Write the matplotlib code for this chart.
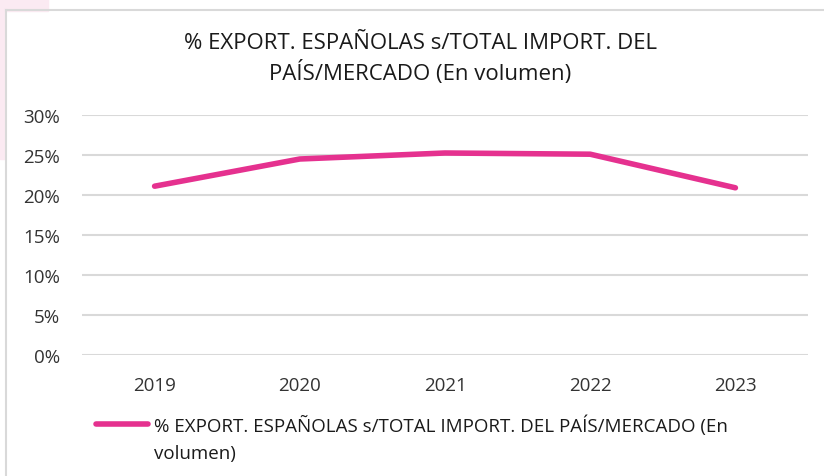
import matplotlib.pyplot as plt
from matplotlib.patches import Rectangle
from matplotlib.lines import Line2D

years = ["2019", "2020", "2021", "2022", "2023"]
share = [21.1, 24.5, 25.25, 25.1, 20.9]
y_ticks = [0, 5, 10, 15, 20, 25, 30]
label_lines = ["% EXPORT. ESPAÑOLAS s/TOTAL IMPORT. DEL PAÍS/MERCADO (En", "volumen)"]
title = "% EXPORT. ESPAÑOLAS s/TOTAL IMPORT. DEL\nPAÍS/MERCADO (En volumen)"

pink = "#E5318F"
plt.rcParams["font.family"] = ["Open Sans", "DejaVu Sans"]

fig = plt.figure(figsize=(8.24, 4.77), dpi=100)
W, H = 824, 477

# light pink corner and the outer frame of the original screenshot
fig.patches.append(Rectangle((0, 1 - 12 / H), 48 / W, 12 / H, transform=fig.transFigure,
                             color="#FBEAF2", zorder=0))
fig.patches.append(Rectangle((0, 1 - 160 / H), 5 / W, 150 / H, transform=fig.transFigure,
                             color="#FBEAF2", zorder=0))
fig.lines.append(Line2D([6 / W, 1], [1 - 11 / H, 1 - 11 / H], transform=fig.transFigure,
                        color="#D9D9D9", lw=1.5))
fig.lines.append(Line2D([6 / W, 6 / W], [0, 1 - 11 / H], transform=fig.transFigure,
                        color="#D9D9D9", lw=1.5))

ax = fig.add_axes([82 / W, 1 - 356 / H, (808 - 82) / W, 240 / H])
x = range(len(years))
ax.plot(x, share, color=pink, lw=4, solid_capstyle="round", label=label_lines[0])

ax.set_xlim(-0.5, len(years) - 0.5)
ax.set_ylim(0, 30)
ax.set_yticks(y_ticks)
ax.set_yticklabels([f"{v}%" for v in y_ticks])
ax.set_xticks(list(x))
ax.set_xticklabels(years)
ax.tick_params(length=0, labelsize=13.5, colors="#333333")
ax.tick_params(axis="x", pad=15)
ax.tick_params(axis="y", pad=16)
ax.grid(axis="y", color="#D9D9D9", lw=1.5)
ax.set_axisbelow(True)
for s in ax.spines.values():
    s.set_visible(False)

fig.text(420 / W, 1 - 59 / H, title, ha="center", va="center", fontsize=16,
         color="#1a1a1a", linespacing=1.35)

# legend: handle next to the first line, the wrapped rest underneath
leg = fig.legend(loc="upper left", bbox_to_anchor=(88 / W, 1 - 408 / H), frameon=False,
                 fontsize=13.5, handlelength=2.8, handletextpad=0.3, borderaxespad=0,
                 labelcolor="#1a1a1a")
fig.canvas.draw()
bb = leg.get_texts()[0].get_window_extent().transformed(fig.transFigure.inverted())
fig.text(bb.x0, bb.y0 - 27 / H, label_lines[1], ha="left", va="bottom",
         fontsize=13.5, color="#1a1a1a")

fig.savefig("out.png", dpi=100)
